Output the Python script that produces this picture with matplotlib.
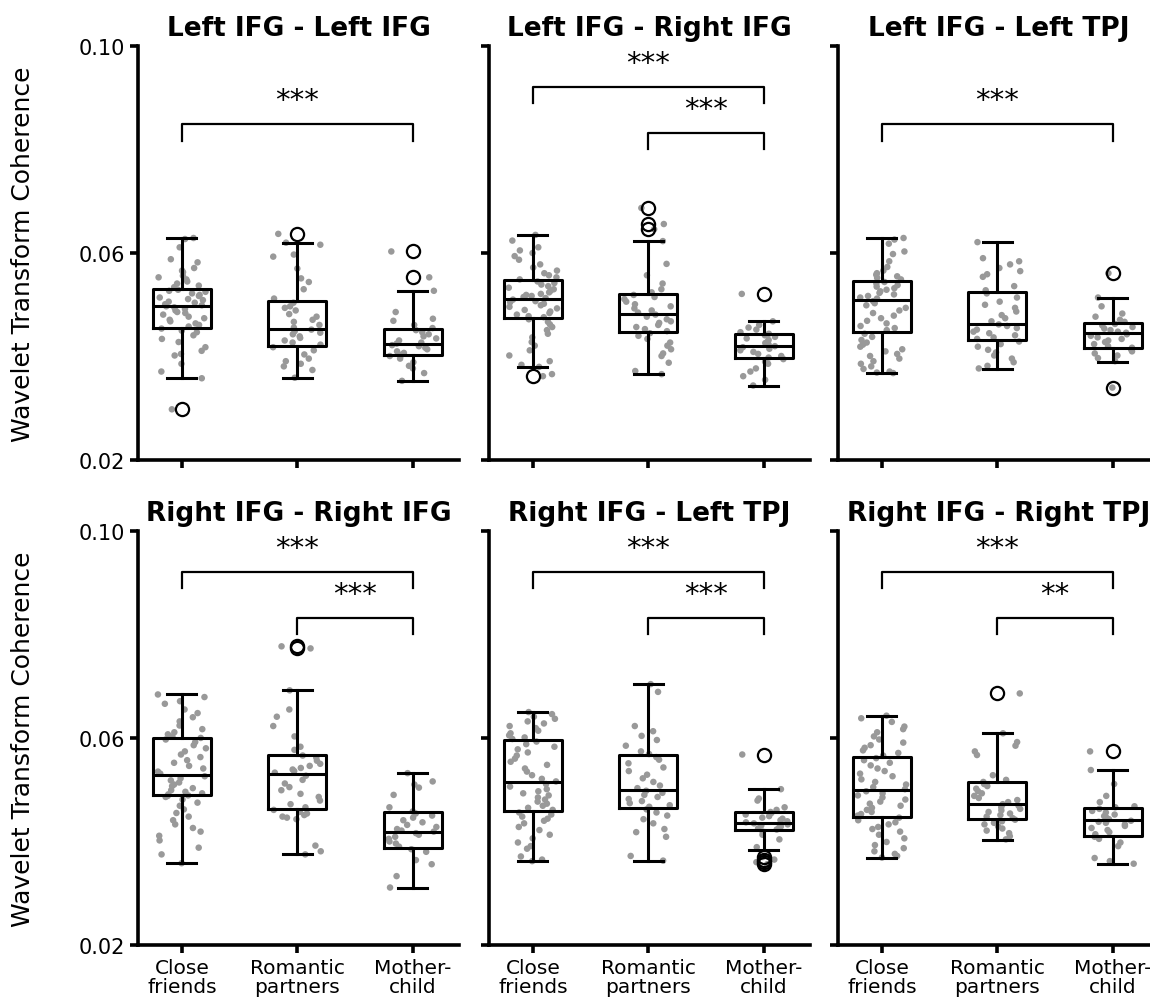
import numpy as np
import matplotlib.pyplot as plt

# values are wavelet transform coherence x 1e-4
groups = ['Close\nfriends', 'Romantic\npartners', 'Mother-\nchild']
titles = ['Left IFG - Left IFG', 'Left IFG - Right IFG', 'Left IFG - Left TPJ',
          'Right IFG - Right IFG', 'Right IFG - Left TPJ', 'Right IFG - Right TPJ']

# box statistics per panel, per group (friends, partners, mother-child)
box_q1 = [[456, 421, 403], [475, 447, 397], [447, 432, 416],
          [489, 463, 387], [458, 465, 422], [448, 443, 411]]
box_med = [[498, 454, 424], [512, 483, 421], [509, 463, 445],
           [528, 530, 418], [514, 500, 436], [499, 473, 441]]
box_q3 = [[530, 507, 454], [547, 521, 443], [546, 525, 465],
          [599, 568, 456], [596, 567, 456], [563, 514, 465]]
whis_lo = [[358, 358, 353], [380, 366, 344], [368, 376, 390],
           [358, 375, 311], [362, 363, 384], [369, 403, 357]]
whis_hi = [[629, 619, 527], [635, 623, 468], [629, 621, 514],
           [684, 692, 532], [650, 704, 501], [643, 609, 538]]
fliers = [[[298], [637], [603, 553]],
          [[362], [687, 656, 646], [521]],
          [[], [], [561, 340]],
          [[], [777, 773], []],
          [[], [], [568, 370, 365, 360, 356]],
          [[], [686], [574]]]

# individual dyads
friends = [
    [629, 627, 611, 588, 582, 571, 566, 563, 556, 553, 549, 545, 541, 537, 534,
     529, 527, 525, 522, 519, 517, 514, 511, 509, 506, 504, 501, 499,
     497, 495, 492, 489, 486, 484, 481, 477, 474, 471, 468, 464, 461, 458,
     454, 450, 447, 441, 434, 428, 418, 411, 405, 402, 386, 371, 358, 298],
    [635, 624, 611, 605, 600, 594, 587, 578, 572, 566, 561, 557, 553, 549,
     545, 542, 539, 536, 533, 530, 527, 524, 521, 519, 517, 515, 513,
     510, 507, 505, 502, 499, 496, 493, 490, 487, 484, 481, 478, 476,
     472, 467, 462, 457, 451, 444, 437, 428, 421, 412, 402, 391, 384, 380, 366, 362],
    [629, 626, 618, 603, 598, 584, 573, 566, 561, 558, 555, 552, 549,
     544, 541, 538, 535, 532, 529, 526, 523, 520, 517, 514, 512,
     507, 503, 499, 494, 489, 484, 479, 474, 469, 464, 459, 455, 451,
     444, 438, 432, 427, 423, 419, 414, 410, 405, 401, 396, 391, 386, 381, 376, 371, 369, 368],
    [684, 679, 671, 666, 655, 648, 640, 632, 624, 617, 611, 607, 603, 600,
     597, 592, 586, 580, 574, 568, 563, 557, 552, 546, 541, 535, 531,
     526, 522, 518, 514, 510, 507, 503, 499, 496, 493, 491, 489, 488,
     486, 481, 475, 469, 462, 455, 448, 441, 433, 426, 419, 411, 402, 388, 375, 358],
    [650, 646, 641, 637, 632, 628, 623, 619, 614, 609, 605, 601, 598,
     593, 588, 583, 578, 572, 566, 560, 554, 548, 541, 535, 528, 521, 516,
     511, 506, 501, 497, 493, 489, 485, 481, 477, 473, 469, 465, 461,
     456, 452, 448, 444, 440, 435, 428, 422, 413, 406, 398, 391, 386, 371, 365, 362],
    [643, 638, 631, 622, 617, 611, 603, 597, 591, 586, 581, 576, 571, 566,
     561, 557, 552, 547, 541, 536, 531, 526, 520, 515, 510, 505, 501,
     497, 493, 489, 485, 481, 477, 473, 469, 465, 461, 457, 453, 450,
     446, 441, 437, 433, 428, 424, 419, 413, 406, 399, 393, 387, 381, 376, 372, 369],
]
partners = [
    [637, 620, 616, 597, 593, 570, 551, 544, 530, 512,
     504, 497, 494, 489, 482, 477, 471, 467, 461,
     456, 452, 449, 446, 443, 439, 436, 431, 427, 423,
     418, 412, 404, 396, 391, 386, 381, 374, 359],
    [687, 656, 646, 623, 579, 557, 541, 530, 524,
     519, 515, 511, 506, 501, 497, 493, 489, 485,
     481, 477, 472, 468, 465, 461, 457, 453, 449,
     445, 440, 434, 427, 421, 414, 406, 401, 388, 372, 366],
    [621, 590, 584, 578, 571, 565, 559, 554, 536, 528,
     522, 514, 506, 500, 494, 487, 480, 474, 468,
     462, 459, 455, 452, 448, 445, 441, 437, 434,
     429, 424, 419, 413, 408, 402, 396, 389, 382, 377],
    [777, 773, 692, 655, 641, 623, 603, 583, 577,
     566, 562, 556, 550, 546, 542, 539, 536, 533,
     527, 519, 512, 505, 499, 492, 486, 479, 472, 466,
     461, 457, 454, 451, 448, 446, 443, 392, 381, 375],
    [704, 689, 623, 613, 604, 596, 585, 574, 569,
     563, 558, 551, 543, 536, 529, 522, 515, 508, 503,
     498, 494, 490, 486, 482, 478, 474, 470, 467,
     462, 456, 450, 443, 435, 424, 418, 409, 372, 363],
    [686, 609, 592, 585, 574, 567, 528, 519, 515,
     511, 507, 502, 497, 493, 488, 484, 480, 476,
     472, 469, 466, 463, 460, 457, 454, 451, 448, 445,
     442, 439, 436, 433, 429, 425, 421, 416, 410, 404],
]
mother_child = [
    [603, 553, 527, 486, 473, 469, 461, 455,
     451, 447, 443, 439, 435, 431, 427, 425,
     422, 420, 417, 414, 410, 407, 404,
     401, 396, 389, 382, 377, 368, 353],
    [521, 468, 461, 456, 452, 447, 444,
     441, 438, 435, 432, 429, 426, 423,
     420, 418, 415, 412, 409, 405, 401, 398,
     395, 390, 386, 377, 371, 362, 355, 344],
    [561, 514, 497, 483, 477, 471, 467,
     463, 460, 457, 454, 451, 448, 446,
     443, 440, 437, 434, 431, 428, 424, 420,
     417, 414, 410, 406, 402, 397, 391, 340],
    [532, 516, 510, 504, 490, 466, 458,
     454, 450, 446, 441, 437, 432, 428,
     424, 421, 419, 416, 413, 409, 405, 400,
     396, 390, 385, 380, 364, 356, 333, 311],
    [568, 501, 483, 479, 466, 461, 457,
     455, 452, 449, 446, 444, 441, 439, 437,
     435, 433, 431, 429, 427, 425, 423,
     419, 413, 404, 389, 370, 365, 360, 356],
    [574, 538, 511, 488, 476, 468, 466,
     463, 459, 456, 452, 449, 446, 443,
     440, 438, 436, 433, 430, 426, 422, 418,
     414, 409, 405, 398, 391, 368, 362, 357],
]

# significance brackets: (group a, group b, height x 1e-4, label)
sig = [[(0, 2, 849, '***')],
       [(0, 2, 921, '***'), (1, 2, 832, '***')],
       [(0, 2, 849, '***')],
       [(0, 2, 921, '***'), (1, 2, 832, '***')],
       [(0, 2, 921, '***'), (1, 2, 832, '***')],
       [(0, 2, 921, '***'), (1, 2, 832, '**')]]

SC = 1e-4


def jitter(n, seed):
    # deterministic spread of dots around the group centre
    i = np.arange(n) + seed
    frac = (np.sin(i * 12.9898 + seed * 78.233) * 43758.5453) % 1.0
    return (frac - 0.5) * 0.42


fig = plt.figure(figsize=(11.5, 10.04), dpi=100)
lefts = [0.12, 0.4252, 0.7287]
bottoms = [0.5408, 0.0578]
W, H = 0.2791, 0.4124

lw = 2.2
for k in range(6):
    r, c = divmod(k, 3)
    ax = fig.add_axes([lefts[c], bottoms[r], W, H])

    # jittered dots
    for g, vals in enumerate([friends[k], partners[k], mother_child[k]]):
        v = np.array(vals) * SC
        ax.scatter(g + jitter(len(v), 7 * k + 3 * g + 1), v, s=22, color='#999999',
                   edgecolor='none', zorder=1)

    stats = []
    for g in range(3):
        stats.append(dict(med=box_med[k][g] * SC, q1=box_q1[k][g] * SC, q3=box_q3[k][g] * SC,
                          whislo=whis_lo[k][g] * SC, whishi=whis_hi[k][g] * SC,
                          fliers=np.array(fliers[k][g]) * SC))
    ax.bxp(stats, positions=[0, 1, 2], widths=0.5, patch_artist=False,
           boxprops=dict(color='black', linewidth=lw),
           medianprops=dict(color='black', linewidth=lw),
           whiskerprops=dict(color='black', linewidth=lw),
           capprops=dict(color='black', linewidth=lw),
           flierprops=dict(marker='o', markersize=9.5, markerfacecolor='none',
                           markeredgecolor='black', markeredgewidth=1.6))

    for (a, b, h, lab) in sig[k]:
        y = h * SC
        ax.plot([a, a, b, b], [y - 0.0032, y, y, y - 0.0032], color='black', lw=1.6)
        ax.text((a + b) / 2, y + 0.0019, lab, ha='center', va='bottom', fontsize=21)

    ax.set_xlim(-0.38, 2.4)
    ax.set_ylim(0.02, 0.10)
    ax.set_yticks([0.02, 0.06, 0.10])
    ax.set_xticks([0, 1, 2])
    for s in ['top', 'right']:
        ax.spines[s].set_visible(False)
    for s in ['left', 'bottom']:
        ax.spines[s].set_linewidth(2.6)
    ax.tick_params(width=2.6, length=6, labelsize=15)
    ax.tick_params(axis='x', labelsize=14.5)
    ax.set_title(titles[k], fontsize=19, fontweight='bold', pad=8)
    if c == 0:
        ax.set_yticklabels(['0.02', '0.06', '0.10'])
        ax.set_ylabel('Wavelet Transform Coherence', fontsize=18, labelpad=31)
    else:
        ax.set_yticklabels([])
    if r == 1:
        ax.set_xticklabels(groups, linespacing=1.0)
    else:
        ax.set_xticklabels([])

fig.savefig('out.png', dpi=100)
